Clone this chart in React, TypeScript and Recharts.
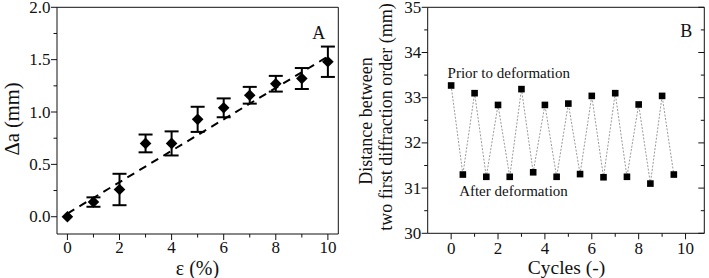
import React from "react"
import { ScatterChart, Scatter, XAxis, YAxis, ErrorBar, ReferenceDot } from "recharts"

// panel A: lattice change vs strain
const strain = [0, 1, 2, 3, 4, 5, 6, 7, 8, 9, 10]
const deltaA = [0, 0.14, 0.26, 0.7, 0.7, 0.93, 1.04, 1.16, 1.27, 1.32, 1.48]
const deltaErr = [0, 0.045, 0.15, 0.085, 0.115, 0.12, 0.09, 0.08, 0.075, 0.1, 0.145]
const fitX = [0, 10]
const fitY = [0.03, 1.53]

// panel B: distance over deformation cycles
const cycles = [0, 0.5, 1, 1.5, 2, 2.5, 3, 3.5, 4, 4.5, 5, 5.5, 6, 6.5, 7, 7.5, 8, 8.5, 9, 9.5]
const distance = [
    33.27, 31.3, 33.1, 31.25, 32.84, 31.25, 33.19, 31.35, 32.84, 31.25,
    32.87, 31.31, 33.04, 31.24, 33.1, 31.25, 32.85, 31.1, 33.04, 31.3,
]

const xTicksA = [0, 1, 2, 3, 4, 5, 6, 7, 8, 9, 10]
const yTicksA = [0, 0.25, 0.5, 0.75, 1, 1.25, 1.5, 1.75, 2]
const xTicksB = [0, 1, 2, 3, 4, 5, 6, 7, 8, 9, 10]
const topTicksB = [0, 1, 2, 3, 4, 5, 6, 7, 8, 9]
const yTicksB = [30, 30.5, 31, 31.5, 32, 32.5, 33, 33.5, 34, 34.5, 35]

const dataA = strain.map((x, i) => ({ x, y: deltaA[i], err: deltaErr[i] }))
const fitData = fitX.map((x, i) => ({ x, y: fitY[i] }))
const dataB = cycles.map((x, i) => ({ x, y: distance[i] }))

const FONT = "'Liberation Serif', 'Times New Roman', Times, serif"
const INK = "#111"
const MAJOR = 6
const MINOR = 3.5

const evenMajor = (v: number) => Math.abs(v % 2) < 1e-6
const halfMajor = (v: number) => Math.abs(v * 2 - Math.round(v * 2)) < 1e-6
const intMajor = (v: number) => Math.abs(v - Math.round(v)) < 1e-6

type Side = "bottom" | "left" | "top" | "right"

function makeTick(side: Side, isMajor: (v: number) => boolean, fmt?: (v: number) => string, baseline = 19.5) {
    return function Tick(props: any) {
        const { x, y, payload } = props
        const v = Number(payload.value)
        const major = isMajor(v)
        const len = major ? MAJOR : MINOR
        const label = fmt && major ? fmt(v) : null
        const txt = { fontSize: 17, fill: INK, style: { fontFamily: FONT } }
        if (side === "bottom") {
            return (
                <g>
                    <line x1={x} y1={y} x2={x} y2={y + len} stroke={INK} strokeWidth={1} />
                    {label && <text x={x} y={y + baseline} textAnchor="middle" {...txt}>{label}</text>}
                </g>
            )
        }
        if (side === "left") {
            return (
                <g>
                    <line x1={x} y1={y} x2={x - len} y2={y} stroke={INK} strokeWidth={1} />
                    {label && <text x={x - MAJOR - 0.5} y={y} textAnchor="end" dominantBaseline="central" {...txt}>{label}</text>}
                </g>
            )
        }
        if (side === "top") {
            return <line x1={x} y1={y} x2={x} y2={y + len} stroke={INK} strokeWidth={1} />
        }
        return <line x1={x} y1={y} x2={x - len} y2={y} stroke={INK} strokeWidth={1} />
    }
}

const Diamond = (props: any) => {
    const { cx, cy } = props
    const r = 5.8
    return <polygon points={`${cx},${cy - r} ${cx + r},${cy} ${cx},${cy + r} ${cx - r},${cy}`} fill="#000" />
}

const Square = (props: any) => {
    const { cx, cy } = props
    const s = 6.6
    return <rect x={cx - s / 2} y={cy - s / 2} width={s} height={s} fill="#000" />
}

const NoDot = () => <g />

const axisLine = { stroke: INK, strokeWidth: 1 }
const serif = { fontFamily: FONT }

function PanelA() {
    return (
        <ScatterChart width={350} height={278} margin={{ top: 7.3, right: 11.7, bottom: 0, left: 0 }}>
            <XAxis
                type="number"
                dataKey="x"
                domain={[-0.4, 10.4]}
                ticks={xTicksA}
                interval={0}
                allowDataOverflow
                height={44}
                axisLine={axisLine}
                tickLine={false}
                tickSize={0}
                tickMargin={0}
                tick={makeTick("bottom", evenMajor, (v) => String(v), 19)}
                label={{
                    content: () => (
                        <text x={197.5} y={274.5} textAnchor="middle" style={serif} fontSize={20} fill={INK}>ε (%)</text>
                    ),
                }}
            />
            <XAxis xAxisId="top" orientation="top" mirror type="number" domain={[-0.4, 10.4]} allowDataOverflow axisLine={axisLine} tickLine={false} tick={false} />
            <YAxis
                type="number"
                dataKey="y"
                domain={[-0.165, 2]}
                ticks={yTicksA}
                interval={0}
                allowDataOverflow
                width={57}
                axisLine={axisLine}
                tickLine={false}
                tickSize={0}
                tickMargin={0}
                tick={makeTick("left", halfMajor, (v) => v.toFixed(1))}
                label={{
                    content: () => (
                        <text x={11.5} y={119} transform="rotate(-90 11.5 119)" textAnchor="middle" dominantBaseline="central" style={serif} fontSize={20.5} fill={INK}>Δa (mm)</text>
                    ),
                }}
            />
            <YAxis yAxisId="right" orientation="right" mirror type="number" domain={[-0.165, 2]} allowDataOverflow axisLine={axisLine} tickLine={false} tick={false} />
            <Scatter
                data={fitData}
                shape={NoDot}
                line={{ stroke: "#000", strokeWidth: 2, strokeDasharray: "8 6" }}
                isAnimationActive={false}
            />
            <Scatter data={dataA} shape={Diamond} isAnimationActive={false}>
                <ErrorBar dataKey="err" direction="y" width={7} strokeWidth={2} stroke="#000" isAnimationActive={false} />
            </Scatter>
            <ReferenceDot x={9.65} y={1.76} r={0} stroke="none" fill="none" label={{ value: "A", position: "center", style: serif, fontSize: 18, fill: INK }} />
        </ScatterChart>
    )
}

function PanelB() {
    return (
        <ScatterChart width={359} height={278} margin={{ top: 7.3, right: 4.7, bottom: 0, left: 0 }}>
            <XAxis
                type="number"
                dataKey="x"
                domain={[-1, 10.8]}
                ticks={xTicksB}
                interval={0}
                allowDataOverflow
                height={44.7}
                axisLine={axisLine}
                tickLine={false}
                tickSize={0}
                tickMargin={0}
                tick={makeTick("bottom", evenMajor, (v) => String(v), 20.5)}
                label={{
                    content: () => (
                        <text x={216.5} y={274} textAnchor="middle" style={serif} fontSize={19.5} fill={INK}>Cycles (-)</text>
                    ),
                }}
            />
            <XAxis
                xAxisId="top"
                orientation="top"
                mirror
                type="number"
                domain={[0, 9.88]}
                ticks={topTicksB}
                interval={0}
                allowDataOverflow
                axisLine={axisLine}
                tickLine={false}
                tickSize={0}
                tickMargin={0}
                tick={makeTick("top", evenMajor)}
            />
            <YAxis
                type="number"
                dataKey="y"
                domain={[30, 35]}
                ticks={yTicksB}
                interval={0}
                allowDataOverflow
                width={77.7}
                axisLine={axisLine}
                tickLine={false}
                tickSize={0}
                tickMargin={0}
                tick={makeTick("left", intMajor, (v) => String(v))}
                label={{
                    content: () => (
                        <g style={serif} fontSize={18} fill={INK}>
                            <text x={15.5} y={121} transform="rotate(-90 15.5 121)" textAnchor="middle" dominantBaseline="central">Distance between</text>
                            <text x={36} y={117} transform="rotate(-90 36 117)" textAnchor="middle" dominantBaseline="central">two first diffraction order (mm)</text>
                        </g>
                    ),
                }}
            />
            <YAxis
                yAxisId="right"
                orientation="right"
                mirror
                type="number"
                domain={[30, 35]}
                ticks={yTicksB}
                interval={0}
                allowDataOverflow
                axisLine={axisLine}
                tickLine={false}
                tickSize={0}
                tickMargin={0}
                tick={makeTick("right", intMajor)}
            />
            <Scatter
                data={dataB}
                shape={Square}
                line={{ stroke: "#9a9a9a", strokeWidth: 1, strokeDasharray: "2 1.5" }}
                isAnimationActive={false}
            />
            <ReferenceDot x={10.03} y={34.49} r={0} stroke="none" fill="none" label={{ value: "B", position: "center", style: serif, fontSize: 18, fill: INK }} />
            <ReferenceDot x={2.46} y={33.56} r={0} stroke="none" fill="none" label={{ value: "Prior to deformation", position: "center", style: serif, fontSize: 15, fill: INK }} />
            <ReferenceDot x={2.66} y={30.95} r={0} stroke="none" fill="none" label={{ value: "After deformation", position: "center", style: serif, fontSize: 15, fill: INK }} />
        </ScatterChart>
    )
}

export default function App() {
    return (
        <div style={{ position: "absolute", left: 0, top: 0, width: 709, height: 278, background: "#fff", fontFamily: FONT }}>
            <div style={{ position: "absolute", left: 0, top: 0 }}>
                <PanelA />
            </div>
            <div style={{ position: "absolute", left: 350, top: 0 }}>
                <PanelB />
            </div>
        </div>
    )
}
